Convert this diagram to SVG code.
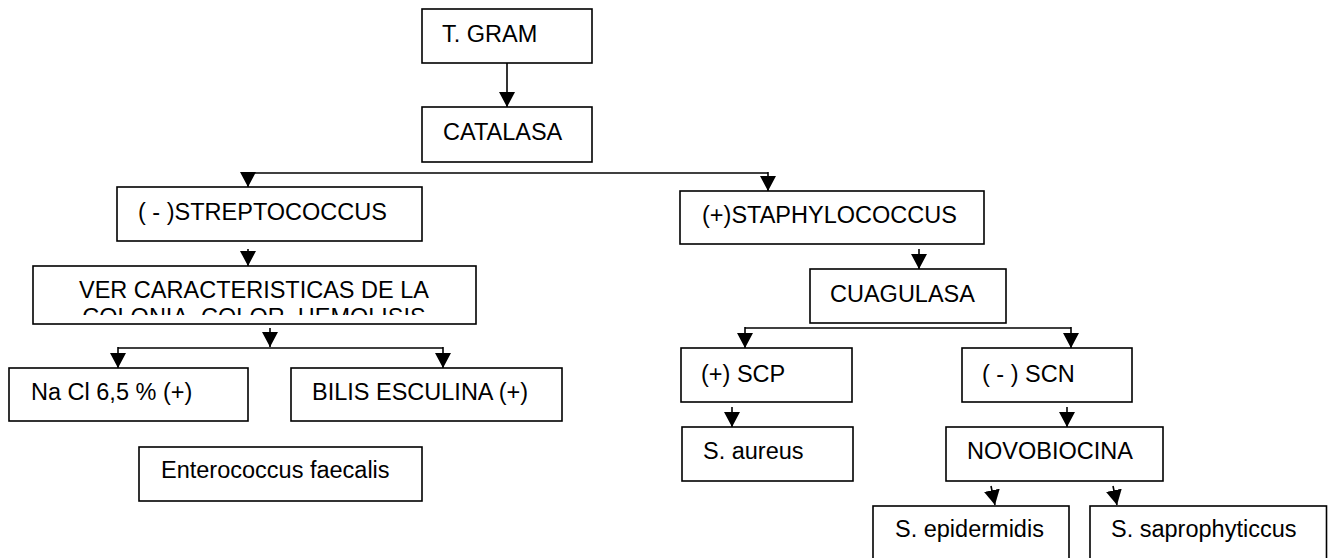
<svg xmlns="http://www.w3.org/2000/svg" width="1328" height="558" viewBox="0 0 1328 558">
<style>
rect.b{fill:#fff;stroke:#000;stroke-width:1.6}
text{font-family:"Liberation Sans",Arial,sans-serif;font-size:23.5px;fill:#000}
.c line,.c path{stroke:#000;stroke-width:1.6;fill:none}
</style>
<defs>
<marker id="ah" viewBox="0 0 15 16" refX="15" refY="8" markerWidth="15" markerHeight="16" markerUnits="userSpaceOnUse" orient="auto">
<path d="M0,0 L15,8 L0,16 z" fill="#000"/>
</marker>
<clipPath id="vclip"><rect x="33" y="266" width="443" height="49"/></clipPath>
</defs>
<rect width="1328" height="558" fill="#fff"/>
<g class="c" id="connectors">
<line x1="507" y1="63" x2="507" y2="107" marker-end="url(#ah)"/>
<line x1="248" y1="173" x2="768" y2="173"/>
<line x1="248" y1="172" x2="248" y2="187" marker-end="url(#ah)"/>
<line x1="768" y1="172" x2="768" y2="191" marker-end="url(#ah)"/>
<line x1="248" y1="249" x2="248" y2="266" marker-end="url(#ah)"/>
<line x1="919" y1="249" x2="919" y2="269" marker-end="url(#ah)"/>
<line x1="270" y1="328" x2="270" y2="347" marker-end="url(#ah)"/>
<line x1="118" y1="348" x2="443" y2="348"/>
<line x1="118" y1="347" x2="118" y2="368" marker-end="url(#ah)"/>
<line x1="443" y1="347" x2="443" y2="368" marker-end="url(#ah)"/>
<line x1="745" y1="328" x2="1071" y2="328"/>
<line x1="745" y1="327" x2="745" y2="348" marker-end="url(#ah)"/>
<line x1="1071" y1="327" x2="1071" y2="348" marker-end="url(#ah)"/>
<line x1="732" y1="407" x2="732" y2="427" marker-end="url(#ah)"/>
<line x1="1067" y1="407" x2="1067" y2="427" marker-end="url(#ah)"/>
<line x1="991" y1="486" x2="995" y2="505" marker-end="url(#ah)"/>
<line x1="1113" y1="486" x2="1117" y2="505" marker-end="url(#ah)"/>
</g>
<g id="n-tgram"><rect class="b" x="422" y="9" width="170" height="54"/><text x="442" y="42">T. GRAM</text></g>
<g id="n-catalasa"><rect class="b" x="422" y="107" width="170" height="55"/><text x="443" y="140">CATALASA</text></g>
<g id="n-strepto"><rect class="b" x="117" y="187" width="305" height="54"/><text x="138" y="220">( - )STREPTOCOCCUS</text></g>
<g id="n-staphy"><rect class="b" x="680" y="191" width="304" height="53"/><text x="702" y="223">(+)STAPHYLOCOCCUS</text></g>
<g id="n-ver"><rect class="b" x="33" y="266" width="443" height="58"/>
<g clip-path="url(#vclip)" text-anchor="middle"><text x="254" y="298">VER CARACTERISTICAS DE LA</text><text x="254" y="325">COLONIA, COLOR, HEMOLISIS</text></g></g>
<g id="n-cuagulasa"><rect class="b" x="810" y="269" width="196" height="54"/><text x="830" y="302">CUAGULASA</text></g>
<g id="n-nacl"><rect class="b" x="9" y="368" width="239" height="53"/><text x="31" y="400">Na Cl 6,5 % (+)</text></g>
<g id="n-bilis"><rect class="b" x="291" y="368" width="271" height="53"/><text x="312" y="400">BILIS ESCULINA (+)</text></g>
<g id="n-entero"><rect class="b" x="139" y="447" width="283" height="54"/><text x="161" y="478">Enterococcus faecalis</text></g>
<g id="n-scp"><rect class="b" x="681" y="348" width="171" height="54"/><text x="701" y="382">(+) SCP</text></g>
<g id="n-scn"><rect class="b" x="962" y="348" width="170" height="54"/><text x="982" y="382">( - ) SCN</text></g>
<g id="n-aureus"><rect class="b" x="682" y="427" width="171" height="54"/><text x="703" y="459">S. aureus</text></g>
<g id="n-novo"><rect class="b" x="946" y="427" width="217" height="54"/><text x="967" y="459">NOVOBIOCINA</text></g>
<g id="n-epi"><rect class="b" x="873" y="506" width="196" height="60"/><text x="895" y="537">S. epidermidis</text></g>
<g id="n-sapro"><rect class="b" x="1090" y="506" width="236.5" height="60"/><text x="1111" y="537">S. saprophyticcus</text></g>
</svg>
